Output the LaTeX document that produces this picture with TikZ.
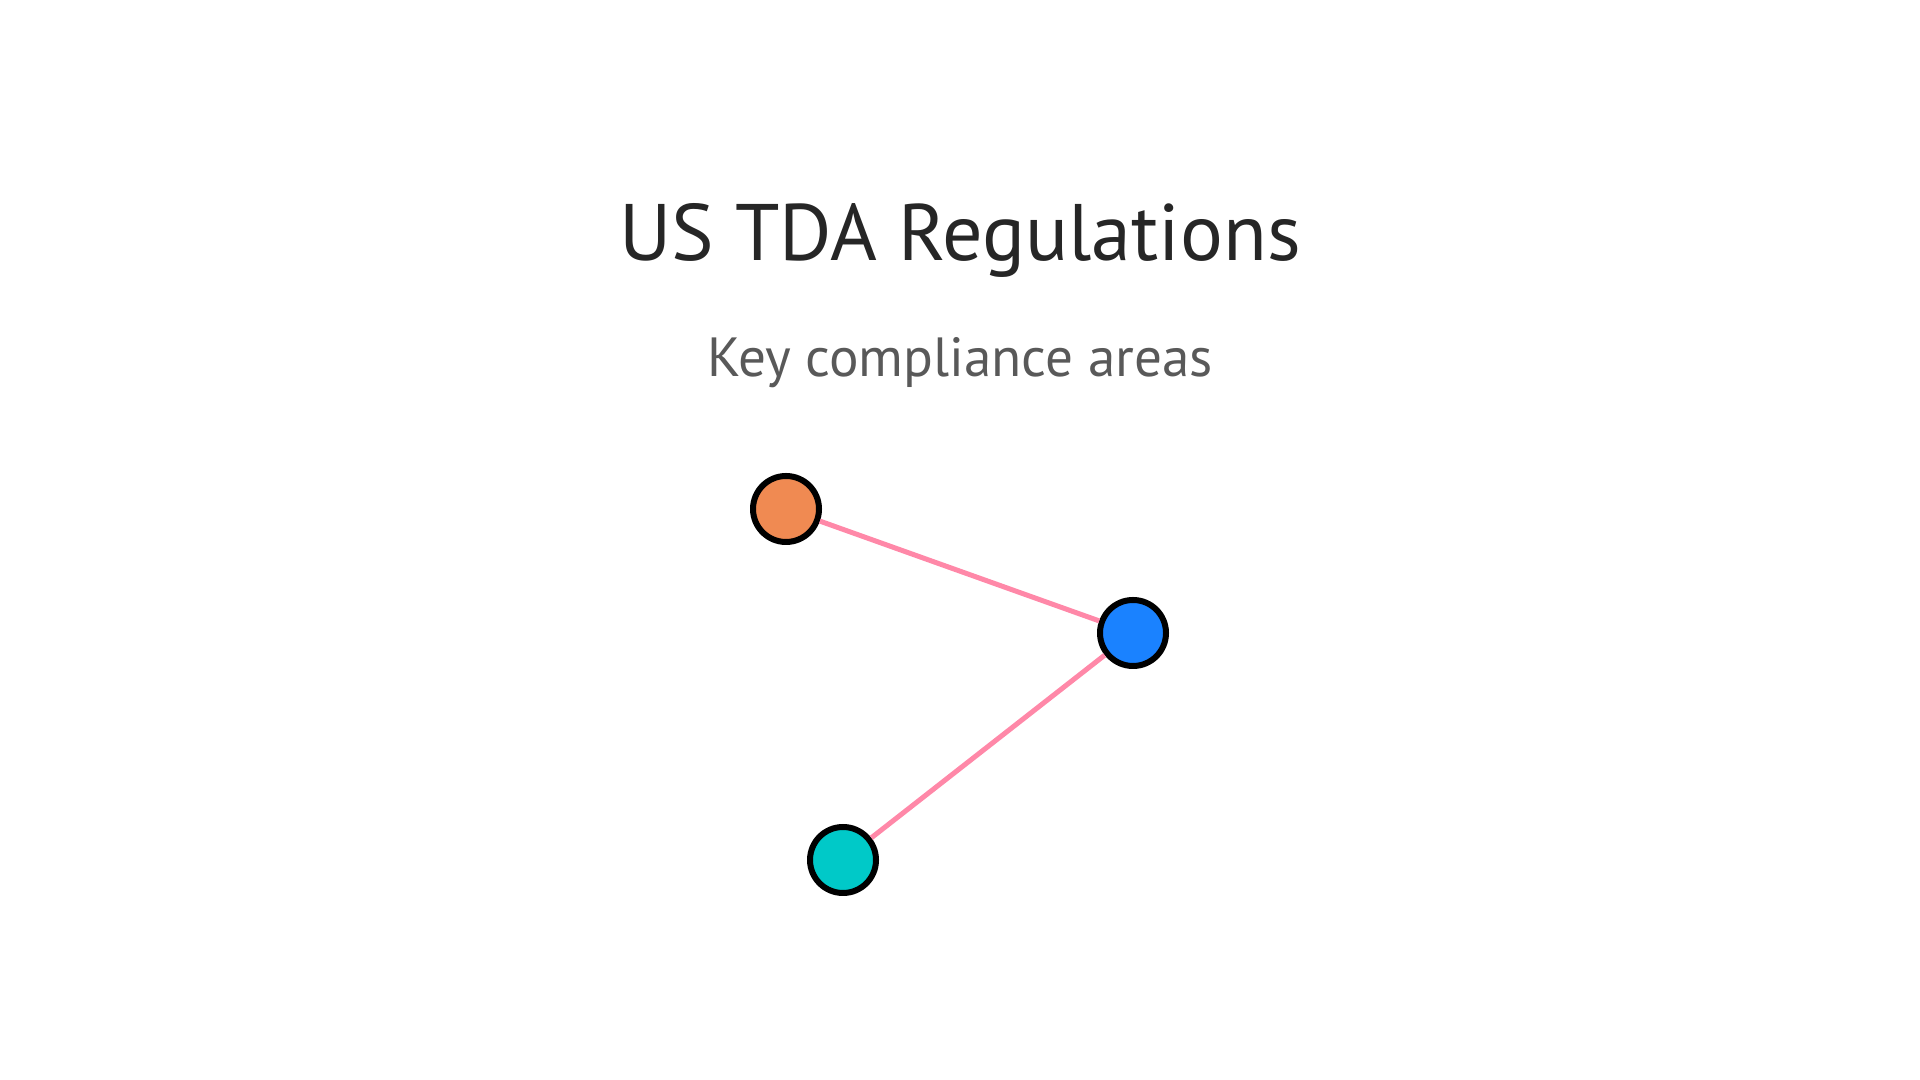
\documentclass[tikz,border=0pt]{standalone}
\usepackage{fontspec}
\setmainfont{PT Sans}
\usepackage{tikz}
\usetikzlibrary{positioning}
\definecolor{titlegray}{HTML}{262626}
\definecolor{subgray}{HTML}{595959}
\definecolor{areaorange}{HTML}{F08A52}
\definecolor{areablue}{HTML}{1A82FF}
\definecolor{areateal}{HTML}{00C9C8}
\definecolor{linkpink}{HTML}{FF88A8}
\begin{document}
\begin{tikzpicture}[area/.style={circle,draw=black,line width=0.06cm,minimum size=0.66cm,inner sep=0pt},
link/.style={draw=linkpink,line width=0.05cm}]
\useasboundingbox (0,0) rectangle (19.2,10.8);
\node[anchor=base,text=titlegray,font=\fontsize{22.8}{27}\selectfont] (title) at (9.6,8.19) {US TDA Regulations};
\node[anchor=base,text=subgray,font=\fontsize{15.7}{19}\selectfont] (sub) at (9.6,7.03) {Key compliance areas};
\node[area,fill=areaorange] (A1) at (7.86,5.71) {};
\node[area,fill=areablue] (A2) at (11.33,4.47) {};
\node[area,fill=areateal] (A3) at (8.43,2.20) {};
\draw[link]
(A1) -- (A2)
(A2) -- (A3);
\end{tikzpicture}
\end{document}
